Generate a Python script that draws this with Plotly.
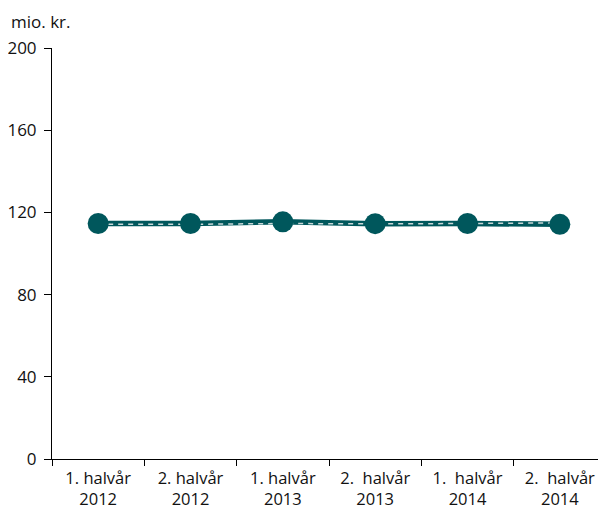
import plotly.graph_objects as go

categories = ["1. halvår<br>2012", "2. halvår<br>2012", "1. halvår<br>2013",
              "2.  halvår<br>2013", "1.  halvår<br>2014", "2.  halvår<br>2014"]
actual = [114.6, 114.6, 115.4, 114.5, 114.6, 114.2]
trend = [114.2, 114.2, 114.6, 114.4, 114.6, 114.9]
y_ticks = [0, 40, 80, 120, 160, 200]

teal = "#00575C"
font = "Open Sans, Noto Sans, DejaVu Sans, sans-serif"

# page body has an 8px margin; figure sized to fill the rest of the window
W, H = 598, 508
L, T, R, B = 44, 40, 0, 57

fig = go.Figure()
fig.add_trace(go.Scatter(x=categories, y=actual, mode="lines",
                         line=dict(color=teal, width=5.5), hoverinfo="skip"))
fig.add_trace(go.Scatter(x=categories, y=trend, mode="lines",
                         line=dict(color="#C9D8D8", width=1.5, dash="5px,5px")))
fig.add_trace(go.Scatter(x=categories, y=actual, mode="markers",
                         marker=dict(color=teal, size=21)))

fig.update_layout(
    width=W, height=H,
    margin=dict(l=L, r=R, t=T, b=B, pad=0),
    plot_bgcolor="white", paper_bgcolor="white",
    showlegend=False,
    font=dict(family=font, size=16, color="#111111"),
    xaxis=dict(type="category", showline=True, linecolor="#000", linewidth=1,
               ticks="outside", tickson="boundaries", ticklen=6, tickcolor="#000",
               showgrid=False, tickfont=dict(size=16.5), range=[-0.5, 5.5],
               ticklabelstandoff=4, automargin=False),
    yaxis=dict(range=[0, 200], tickvals=y_ticks, showline=True, linecolor="#000",
               linewidth=1, ticks="outside", ticklen=7, tickcolor="#000",
               showgrid=False, zeroline=False, tickfont=dict(size=17),
               ticklabelstandoff=4, automargin=False),
    annotations=[dict(text="mio. kr.", xref="paper", yref="paper",
                      x=-(L - 2) / (W - L - R), y=1 + (T - 1) / (H - T - B),
                      xanchor="left", yanchor="top", showarrow=False, borderpad=0,
                      font=dict(size=17, family=font))],
)

fig.write_html("out.html")
